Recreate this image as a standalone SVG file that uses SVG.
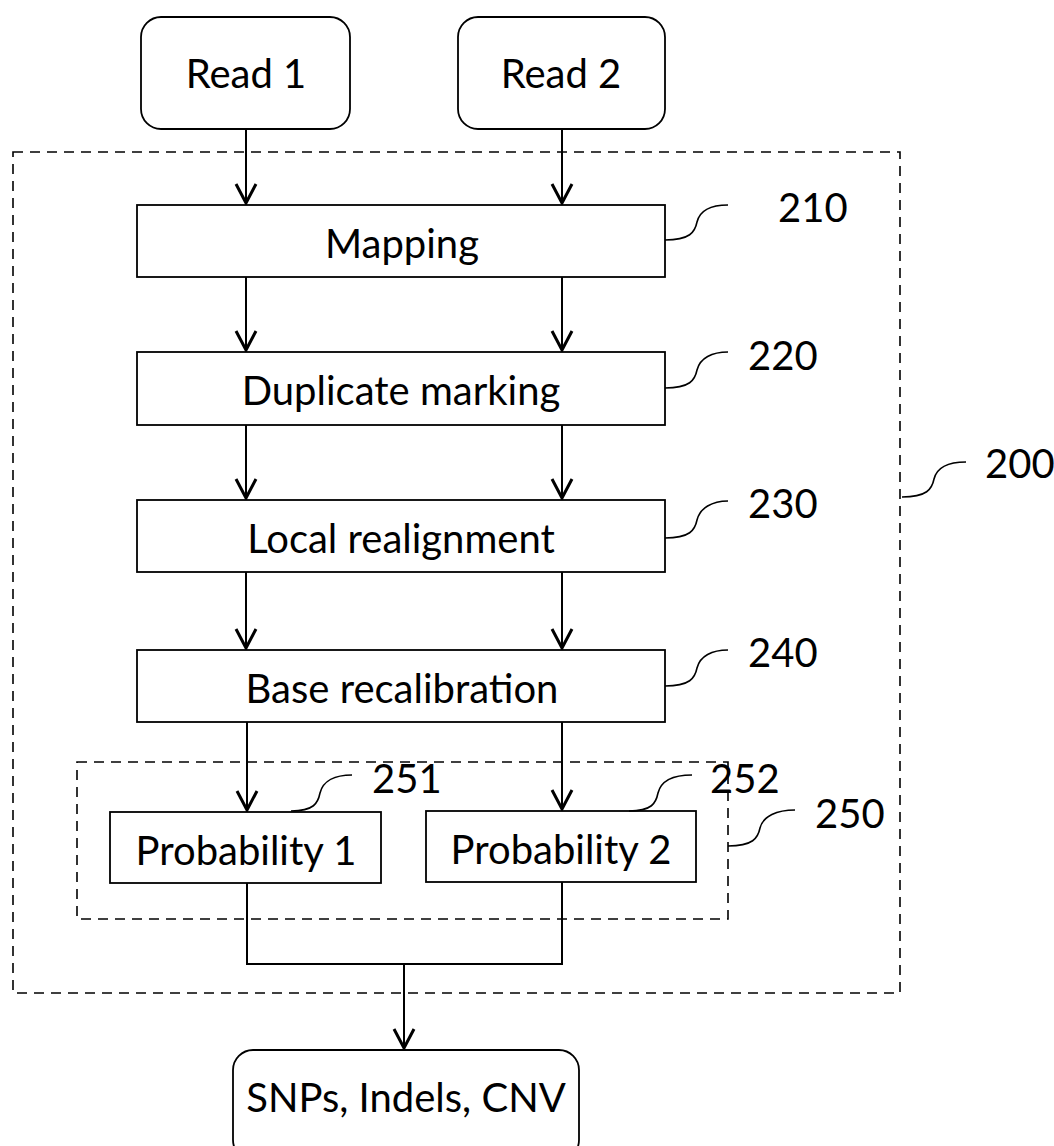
<svg xmlns="http://www.w3.org/2000/svg" width="1054" height="1146" viewBox="0 0 1054 1146">
<style>
.box{fill:#fff;stroke:#000;stroke-width:1.8}
.dash{fill:none;stroke:#000;stroke-width:1.6;stroke-dasharray:10 7}
.t{font-family:Lato,"Open Sans","Liberation Sans",sans-serif;font-size:40px;fill:#000;text-anchor:middle}
.n{font-family:Lato,"Open Sans","Liberation Sans",sans-serif;font-size:40px;fill:#000}
.c{fill:none;stroke:#000;stroke-width:2}
.ld{fill:none;stroke:#000;stroke-width:1.6}
</style>
<defs>
<marker id="arr" markerUnits="userSpaceOnUse" markerWidth="28" markerHeight="28" viewBox="-22 -14 26 28" refX="0" refY="0" orient="auto">
<path d="M-19,-10 L0,0 L-19,10" fill="none" stroke="#000" stroke-width="3"/>
</marker>
</defs>
<rect width="1054" height="1146" fill="#fff"/>
<g id="group200">
<rect class="dash" x="13" y="152" width="887" height="841"/>
</g>
<g id="group250">
<rect class="dash" x="77" y="762" width="651" height="157"/>
</g>
<g id="connectors">
<line class="c" x1="246" y1="129" x2="246" y2="203" marker-end="url(#arr)"/>
<line class="c" x1="562" y1="129" x2="562" y2="203" marker-end="url(#arr)"/>
<line class="c" x1="246" y1="277" x2="246" y2="350" marker-end="url(#arr)"/>
<line class="c" x1="562" y1="277" x2="562" y2="350" marker-end="url(#arr)"/>
<line class="c" x1="246" y1="425" x2="246" y2="498" marker-end="url(#arr)"/>
<line class="c" x1="562" y1="425" x2="562" y2="498" marker-end="url(#arr)"/>
<line class="c" x1="246" y1="572" x2="246" y2="648" marker-end="url(#arr)"/>
<line class="c" x1="562" y1="572" x2="562" y2="648" marker-end="url(#arr)"/>
<line class="c" x1="247" y1="722" x2="247" y2="810" marker-end="url(#arr)"/>
<line class="c" x1="562" y1="722" x2="562" y2="809" marker-end="url(#arr)"/>
<path class="c" d="M247,883 L247,964 L562,964 L562,882"/>
<line class="c" x1="404" y1="964" x2="404" y2="1048" marker-end="url(#arr)"/>
</g>
<g id="read1">
<rect class="box" x="141" y="17" width="209" height="112" rx="20"/>
<text class="t" x="246" y="88">Read 1</text>
</g>
<g id="read2">
<rect class="box" x="458" y="17" width="207" height="112" rx="20"/>
<text class="t" x="561" y="88">Read 2</text>
</g>
<g id="n210">
<rect class="box" x="137" y="205" width="528" height="72"/>
<text class="t" x="402" y="258">Mapping</text>
<path class="ld" d="M665,240 C690,240 695,232 697,222 C700,210 712,205 728,205"/>
<text class="n" x="778" y="222">210</text>
</g>
<g id="n220">
<rect class="box" x="137" y="352" width="528" height="73"/>
<text class="t" x="401" y="405">Duplicate marking</text>
<path class="ld" d="M665,388 C690,388 695,380 697,370 C700,358 712,352 728,352"/>
<text class="n" x="748" y="370">220</text>
</g>
<g id="n230">
<rect class="box" x="137" y="500" width="528" height="72"/>
<text class="t" x="401" y="553">Local realignment</text>
<path class="ld" d="M665,538 C690,538 695,530 697,520 C700,508 712,501 728,501"/>
<text class="n" x="748" y="518">230</text>
</g>
<g id="n240">
<rect class="box" x="137" y="650" width="528" height="72"/>
<text class="t" x="402" y="703">Base recalibration</text>
<path class="ld" d="M665,686 C690,686 695,678 697,668 C700,656 712,650 728,650"/>
<text class="n" x="748" y="667">240</text>
</g>
<g id="label200">
<path class="ld" d="M902,497 C927,497 932,489 934,479 C937,467 949,462 966,462"/>
<text class="n" x="985" y="478">200</text>
</g>
<g id="label250">
<path class="ld" d="M728,846 C753,846 758,838 760,828 C763,816 777,810 795,810"/>
<text class="n" x="815" y="828">250</text>
</g>
<g id="n251">
<rect class="box" x="110" y="812" width="271" height="71"/>
<text class="t" x="246" y="865">Probability 1</text>
<path class="ld" d="M291,811 C314,811 318,803 320,793 C323,781 335,775 352,775"/>
<text class="n" x="372" y="793">251</text>
</g>
<g id="n252">
<rect class="box" x="426" y="811" width="270" height="71"/>
<text class="t" x="561" y="864">Probability 2</text>
<path class="ld" d="M629,811 C652,811 656,803 658,793 C661,781 673,775 692,775"/>
<text class="n" x="710" y="793">252</text>
</g>
<g id="output">
<rect class="box" x="233" y="1050" width="346" height="110" rx="20"/>
<text class="t" x="406" y="1112">SNPs, Indels, CNV</text>
</g>
</svg>
